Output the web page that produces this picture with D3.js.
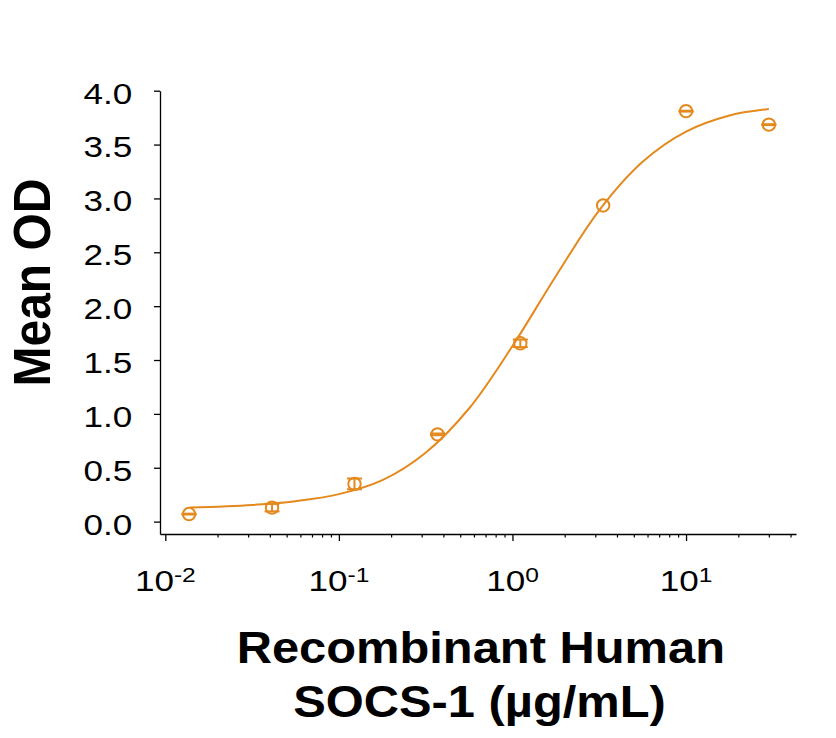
<!DOCTYPE html>
<html>
<head>
<meta charset="utf-8">
<script src="https://cdn.jsdelivr.net/npm/d3@7"></script>
<style>
  body { margin: 0; background: #fff; }
  text { font-family: "Liberation Sans", Arial, sans-serif; fill: #000; }
</style>
</head>
<body>
<div id="chart"></div>
<script>
// measured points (µg/mL, mean OD, +/- error)
const concentrations = [0.0137, 0.0412, 0.123, 0.370, 1.11, 3.33, 10, 30];
const meanOD = [0.07, 0.13, 0.35, 0.81, 1.655, 2.935, 3.81, 3.685];
const errorOD = [0.004, 0.035, 0.05, 0.008, 0.035, 0, 0.004, 0.004];

// fitted curve
const curveConc = [0.0138, 0.0316, 0.0562, 0.1, 0.178, 0.316, 0.562, 1, 1.78, 3.16, 5.62, 10, 17.8, 30];
const curveOD = [0.13, 0.155, 0.19, 0.255, 0.385, 0.64, 1.05, 1.63, 2.28, 2.89, 3.34, 3.62, 3.77, 3.83];

// tick labels
const yTicks = [0, 0.5, 1, 1.5, 2, 2.5, 3, 3.5, 4];
const xMajor = [0.01, 0.1, 1, 10];
const xMajorExp = ["-2", "-1", "0", "1"];
const xMinor = [0.02, 0.03, 0.04, 0.05, 0.06, 0.07, 0.08, 0.09,
  0.2, 0.3, 0.4, 0.5, 0.6, 0.7, 0.8, 0.9,
  2, 3, 4, 5, 6, 7, 8, 9, 20, 30, 40];

const color = "#E4891D";
const stretch = 1.17;

let svg = d3.select("#chart").append("svg")
  .attr("width", 836)
  .attr("height", 738);

// scales
let x = d3.scaleLog().domain([0.00932, 43]).range([160, 796]);
let y = d3.scaleLinear().domain([-0.115, 4.0]).range([534, 90.7]);

// y axis
let yAxis = svg.append("g")
  .attr("transform", "translate(160,0)")
  .call(d3.axisLeft(y).tickValues(yTicks).tickSize(6).tickSizeOuter(0).tickFormat(d3.format(".1f")));
yAxis.select(".domain").attr("stroke-width", 1.3);
yAxis.selectAll(".tick line").attr("stroke-width", 1.3);
yAxis.selectAll(".tick text")
  .attr("font-size", 30)
  .attr("font-family", null)
  .attr("x", -27.7 / stretch)
  .attr("dy", 12.4)
  .attr("transform", "scale(" + stretch + ",1)");

// x axis, minor ticks first then major ticks
let xAxisMinor = svg.append("g")
  .attr("transform", "translate(0,534)")
  .call(d3.axisBottom(x).tickValues(xMinor).tickSize(3.5).tickSizeOuter(0).tickFormat(""));
xAxisMinor.select(".domain").attr("stroke-width", 1.3);
xAxisMinor.selectAll(".tick line").attr("stroke-width", 1.2);

let xAxisMajor = svg.append("g")
  .attr("transform", "translate(0,534)")
  .call(d3.axisBottom(x).tickValues(xMajor).tickSize(7).tickSizeOuter(0).tickFormat(""));
xAxisMajor.select(".domain").remove();
xAxisMajor.selectAll(".tick line").attr("stroke-width", 1.3);

// x tick labels as 10 with superscript
xMajor.forEach(function (v, i) {
  let t = svg.append("text")
    .attr("transform", "translate(" + x(v) + ",591) scale(" + stretch + ",1)")
    .attr("text-anchor", "middle")
    .attr("font-size", 30);
  t.append("tspan").text("10");
  t.append("tspan").attr("font-size", 21).attr("dy", -9.3).text(xMajorExp[i]);
});

// fitted curve
let line = d3.line()
  .x(function (d, i) { return x(curveConc[i]); })
  .y(function (d, i) { return y(curveOD[i]); })
  .curve(d3.curveCatmullRom.alpha(0.5));

svg.append("path")
  .datum(curveOD)
  .attr("d", line)
  .attr("fill", "none")
  .attr("stroke", color)
  .attr("stroke-width", 2);

// error bars
let bars = svg.append("g")
  .selectAll("g")
  .data(meanOD)
  .enter()
  .filter(function (d, i) { return errorOD[i] > 0; })
  .append("g")
  .attr("stroke", color)
  .attr("stroke-width", 2);

bars.append("line")
  .attr("x1", function (d) { return x(concentrations[meanOD.indexOf(d)]); })
  .attr("x2", function (d) { return x(concentrations[meanOD.indexOf(d)]); })
  .attr("y1", function (d) { return y(d - errorOD[meanOD.indexOf(d)]); })
  .attr("y2", function (d) { return y(d + errorOD[meanOD.indexOf(d)]); });

[-1, 1].forEach(function (s) {
  bars.append("line")
    .attr("x1", function (d) { return x(concentrations[meanOD.indexOf(d)]) - 7.5; })
    .attr("x2", function (d) { return x(concentrations[meanOD.indexOf(d)]) + 7.5; })
    .attr("y1", function (d) { return y(d + s * errorOD[meanOD.indexOf(d)]); })
    .attr("y2", function (d) { return y(d + s * errorOD[meanOD.indexOf(d)]); });
});

// points
svg.append("g")
  .selectAll("circle")
  .data(meanOD)
  .enter()
  .append("circle")
  .attr("cx", function (d, i) { return x(concentrations[i]); })
  .attr("cy", function (d) { return y(d); })
  .attr("r", 6.2)
  .attr("fill", "none")
  .attr("stroke", color)
  .attr("stroke-width", 2);

// axis titles
svg.append("text")
  .attr("transform", "translate(50,282.5) rotate(-90) scale(1,1.08)")
  .attr("text-anchor", "middle")
  .attr("font-size", 48)
  .attr("font-weight", "bold")
  .text("Mean OD");

svg.append("text")
  .attr("transform", "translate(480.8,663.3) scale(1.11,1)")
  .attr("text-anchor", "middle")
  .attr("font-size", 44)
  .attr("font-weight", "bold")
  .text("Recombinant Human");

svg.append("text")
  .attr("transform", "translate(479.5,716.7) scale(1.11,1)")
  .attr("text-anchor", "middle")
  .attr("font-size", 44)
  .attr("font-weight", "bold")
  .text("SOCS-1 (µg/mL)");
</script>
</body>
</html>
